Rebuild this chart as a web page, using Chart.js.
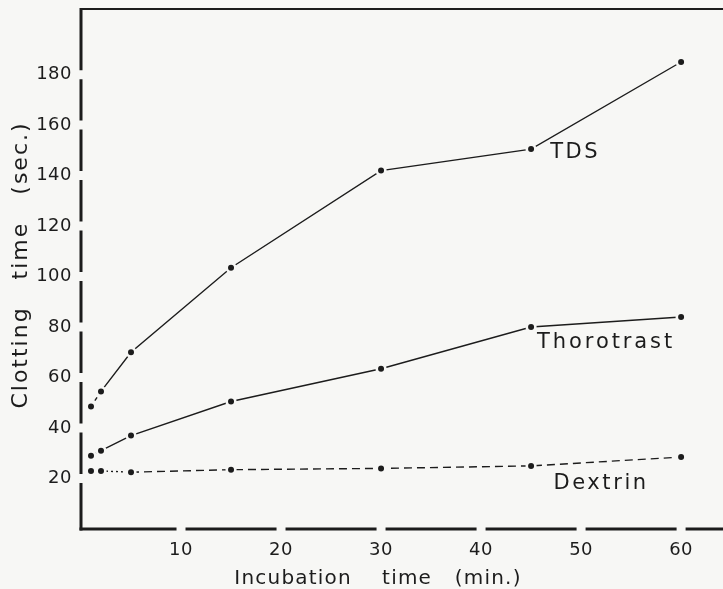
<!DOCTYPE html>
<html>
<head>
<meta charset="utf-8">
<script src="https://cdn.jsdelivr.net/npm/chart.js@4.4.1/dist/chart.umd.min.js"></script>
<style>
  html, body { margin: 0; padding: 0; background: #f7f7f5; }
  #wrap { width: 723px; height: 589px; }
</style>
</head>
<body>
<div id="wrap"><canvas id="clotChart" width="723" height="589"></canvas></div>
<script>
// values
const incubationMin = [1, 2, 5, 15, 30, 45, 60];
const tdsSec = [48.5, 54.5, 70, 103.5, 142, 150.5, 185];
const thorotrastSec = [29, 31, 37, 50.5, 63.5, 80, 84];
const dextrinSec = [23, 23, 22.5, 23.5, 24, 25, 28.5];

const xTickValues = [10, 20, 30, 40, 50, 60];
const yTickValues = [20, 40, 60, 80, 100, 120, 140, 160, 180];

const xTitle = 'Incubation    time   (min.)';
const yTitle = 'Clotting   time   (sec.)';

const ink = '#1c1c1c';
const paper = '#f7f7f5';
const fontFamily = '"DejaVu Sans", sans-serif';

function toPoints(ys) {
    return incubationMin.map((x, i) => ({ x: x, y: ys[i] }));
}

function lineSet(label, ys, dashFn) {
    return {
        label: label,
        data: toPoints(ys),
        borderColor: ink,
        borderWidth: 1.4,
        pointRadius: 4.3,
        pointBorderWidth: 2.6,
        pointBackgroundColor: ink,
        pointBorderColor: paper,
        fill: false,
        tension: 0,
        segment: { borderDash: dashFn }
    };
}

// axis lines with small breaks at each tick, plus the top frame line
const framePlugin = {
    id: 'frame',
    beforeDraw(chart) {
        chart.ctx.letterSpacing = '0.5px';
    },
    afterDraw(chart) {
        const ctx = chart.ctx;
        const a = chart.chartArea;
        const xs = chart.scales.x;
        const ys = chart.scales.y;
        ctx.save();
        ctx.strokeStyle = ink;
        ctx.lineCap = 'butt';

        ctx.lineWidth = 2;
        ctx.beginPath();
        ctx.moveTo(a.left, a.top);
        ctx.lineTo(chart.width, a.top);
        ctx.stroke();

        ctx.lineWidth = 3;
        // left axis
        let cuts = yTickValues.map(v => ys.getPixelForValue(v)).sort((p, q) => p - q);
        let start = a.top - 1;
        ctx.beginPath();
        cuts.forEach(p => {
            ctx.moveTo(a.left, start);
            ctx.lineTo(a.left, p - 4.5);
            start = p + 4.5;
        });
        ctx.moveTo(a.left, start);
        ctx.lineTo(a.left, a.bottom + 1.5);
        ctx.stroke();

        // bottom axis
        cuts = xTickValues.map(v => xs.getPixelForValue(v)).sort((p, q) => p - q);
        start = a.left - 1.5;
        ctx.beginPath();
        cuts.forEach(p => {
            ctx.moveTo(start, a.bottom);
            ctx.lineTo(p - 4.5, a.bottom);
            start = p + 4.5;
        });
        ctx.moveTo(start, a.bottom);
        ctx.lineTo(chart.width, a.bottom);
        ctx.stroke();

        // series names next to the curves
        ctx.fillStyle = ink;
        ctx.textAlign = 'center';
        ctx.textBaseline = 'middle';
        ctx.font = '21px ' + fontFamily;
        const names = [
            ['TDS', 49.4, 149, '2.5px'],
            ['Thorotrast', 52.5, 74, '2.9px'],
            ['Dextrin', 52, 18, '2.6px']
        ];
        names.forEach(n => {
            ctx.letterSpacing = n[3];
            ctx.fillText(n[0], xs.getPixelForValue(n[1]), ys.getPixelForValue(n[2]));
        });

        // axis titles
        ctx.font = '20px ' + fontFamily;
        ctx.letterSpacing = '1.2px';
        ctx.fillText(xTitle, 378, 579);

        ctx.translate(21, 265);
        ctx.rotate(-Math.PI / 2);
        ctx.font = '22px ' + fontFamily;
        ctx.letterSpacing = '2px';
        ctx.fillText(yTitle, 0, 0);
        ctx.restore();
    }
};

new Chart(document.getElementById('clotChart'), {
    type: 'line',
    data: {
        datasets: [
            lineSet('TDS', tdsSec, c => c.p0DataIndex === 0 ? [4, 3] : []),
            lineSet('Thorotrast', thorotrastSec, c => c.p0DataIndex === 0 ? [2, 2] : []),
            lineSet('Dextrin', dextrinSec, c => c.p0DataIndex < 2 ? [2, 3] : [8, 5])
        ]
    },
    options: {
        responsive: false,
        animation: false,
        layout: { padding: { top: 9, right: 0, left: 0, bottom: 0 } },
        plugins: {
            legend: { display: false },
            tooltip: { enabled: false }
        },
        scales: {
            x: {
                type: 'linear',
                min: 0,
                max: 63.5,
                grid: { display: false, drawTicks: false },
                border: { display: false },
                afterBuildTicks: s => { s.ticks = xTickValues.map(v => ({ value: v })); },
                afterFit: s => {
                    s.height = 60;
                    s.paddingLeft = 0;
                    s.paddingRight = 0;
                },
                ticks: {
                    autoSkip: false,
                    maxRotation: 0,
                    padding: 11,
                    color: ink,
                    font: { family: fontFamily, size: 18 }
                }
            },
            y: {
                min: 0,
                max: 206,
                grid: { display: false, drawTicks: false },
                border: { display: false },
                afterBuildTicks: s => { s.ticks = yTickValues.map(v => ({ value: v })); },
                afterFit: s => {
                    s.width = 81;
                    s.paddingTop = 0;
                    s.paddingBottom = 0;
                },
                ticks: {
                    padding: 9,
                    color: ink,
                    font: { family: fontFamily, size: 18 }
                }
            }
        }
    },
    plugins: [framePlugin]
});
</script>
</body>
</html>
